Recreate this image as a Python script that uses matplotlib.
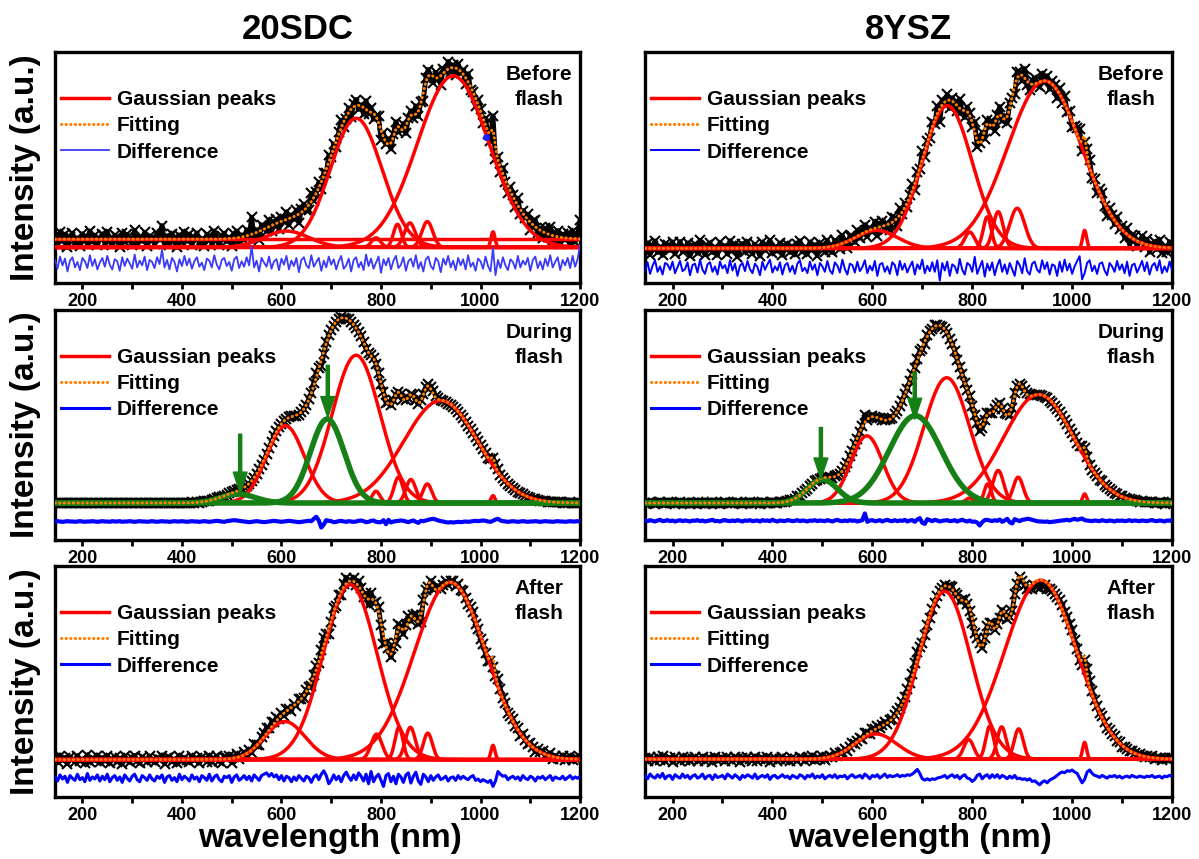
import matplotlib.pyplot as plt
import numpy as np
from matplotlib.lines import Line2D

plt.rcParams['font.family'] = ['Liberation Sans', 'DejaVu Sans']
plt.rcParams['font.weight'] = 'bold'

# sampling of the measured spectra (nm)
wavelength = np.arange(145, 1201, 5)

# Gaussian components: (centre nm, sigma nm, height a.u.)
sdc_before_peaks = [(610, 45, 48), (750, 52, 380), (945, 72, 505), (790, 9, 28),
                    (833, 8, 68), (858, 11, 72), (893, 11, 76), (1025, 4, 46)]
sdc_before_offset = 24
ysz_before_peaks = [(608, 42, 53), (750, 50, 420), (945, 74, 493), (795, 10, 48),
                    (830, 8, 93), (852, 10, 108), (890, 15, 118), (1025, 4, 53)]
sdc_during_peaks = [(608, 38, 230), (750, 48, 440), (920, 74, 305), (790, 8, 35),
                    (835, 9, 77), (860, 10, 70), (893, 9, 57), (1025, 4, 22)]
sdc_during_green = [(512, 35, 27), (692, 34, 250)]
ysz_during_peaks = [(589, 32, 200), (749, 46, 373), (933, 70, 323), (795, 8, 15),
                    (831, 7, 57), (852, 11, 97), (892, 10, 77), (1025, 4, 27)]
ysz_during_green = [(500, 30, 70), (686, 52, 260)]
sdc_after_peaks = [(607, 40, 112), (738, 54, 515), (939, 72, 522), (791, 11, 75),
                   (836, 8, 95), (859, 10, 95), (894, 9, 78), (1025, 4, 42)]
ysz_after_peaks = [(607, 42, 75), (745, 52, 498), (937, 72, 531), (793, 10, 58),
                   (835, 8, 98), (859, 9, 96), (893, 9, 90), (1025, 4, 50)]

# residuals (data - fit), read every 5 nm
sdc_before_diff = [
    10, -16, 20, -6, 14, -24, 8, 18, -12, 4, -20, 16, 6, -14, 24, -8, 12, -18, 2, 16,
    -10, 22, -4, -18, 12, 6, -22, 18, -8, 14, 0, -16, 26, -12, 8, -6, 20, -20, 10, 4,
    -14, 18, -2, 40, -12, 10, -18, 16, 4, -24, 12, -8, 22, -6, 14, -16, 6, 18, -10, 2,
    -20, 14, 8, -12, 24, -4, -18, 10, 16, -8, 4, -22, 12, 20, -14, 6, -10, 18, -6, 50,
    -12, 8, -24, 16, 2, -10, 20, -16, 6, 12, -20, 14, -4, 22, -18, 8, -8, 16, -26, 10,
    18, -6, -14, 24, -10, 4, 16, -22, 8, -12, 20, -4, 12, -18, 6, 22, -16, -6, 14, -24,
    10, 18, -12, 4, -20, 26, -8, 14, -16, 2, 20, -28, 12, -6, 16, -18, 8, 22, -14, -4,
    18, -22, 6, 14, -10, 24, -16, 4, -24, 12, 20, -8, -18, 16, 6, -26, 14, -4, 22, -12,
    8, -20, 16, -6, 12, -18, 24, -10, 2, -22, 14, 6, -16, 20, -8, -24, 45, -35, 10, -14,
    18, -6, -20, 12, 4, -16, 22, -12, 8, -4, 16, -22, 10, 20, -14, 6, -18, 14, -8, 24,
    -12, 4, 18, -20, 10, -6, 16, -14, 22, -10, 12, 55]
ysz_before_diff = [
    -8, 16, -18, 6, 22, -12, 4, -20, 14, 10, -6, 18, -16, 2, 20, -10, -4, 16, -22, 8,
    12, -14, 24, -6, -18, 10, 16, -12, 4, -20, 18, -2, 8, -16, 22, -8, 12, -24, 6, 14,
    -10, 20, -4, -16, 12, 2, -22, 18, -6, 10, 24, -14, 4, -8, 16, -20, 8, 14, -12, 6,
    -18, 12, 22, -10, 0, -16, 18, -6, 10, -22, 14, 4, -12, 20, -8, -18, 16, 6, -14, 24,
    -4, -20, 12, 8, -14, 18, -10, 2, 22, -16, 6, -8, 20, -24, 10, 14, -12, 4, -18, 16,
    8, -22, 20, -6, 12, -14, 4, 18, -20, 10, -4, 24, -16, 6, -10, 16, -12, 22, -38, 14,
    -8, 18, -24, 10, 4, -16, 26, -6, -20, 14, 8, -12, 32, -18, 2, 20, -26, 12, -8, 16,
    -22, 6, 24, -12, 10, -18, 14, -4, -24, 20, 8, -16, 28, -10, -20, 12, 18, -6, -14, 22,
    -4, 16, -20, 10, 6, -24, 18, -12, 24, -8, 12, -18, 4, 20, 34, -34, -16, 14, 22, -10,
    6, -18, 12, 16, -8, -22, 14, 4, -12, 20, -6, 10, -16, 18, -24, 8, 12, -14, 2, 20,
    -10, 16, -20, 6, 14, -8, 22, -16, 4, -12, 18, -6]
sdc_during_diff = [
    0, 1, 0, -1, 0, 1, 0, 0, -1, 0, 1, 0, -1, 0, 0, 1, 0, -1, 0, 1,
    0, 0, -1, 1, 0, 0, 1, -1, 0, 0, 1, 0, -1, 0, 1, 0, 0, -1, 0, 1,
    0, -1, 0, 1, 0, 0, -1, 0, 1, 0, 0, 1, 0, -1, 0, 1, 0, 0, -1, 0,
    1, 0, -1, 0, 1, 2, 1, 0, -1, 1, 2, 3, 4, 3, 2, 1, 0, -1, -2, -1,
    0, 1, 0, -1, -2, -1, 0, 1, 2, 1, 0, -1, 0, 1, 2, 1, 0, -1, -2, -1,
    0, 1, 2, 1, 8, 14, 3, -18, -9, 4, 2, 1, -2, -1, 1, 2, 0, -1, 1, 0,
    -1, 0, 2, 3, 1, -2, -1, 2, 3, -1, -2, -2, 4, -8, 5, -3, 0, 1, 2, 3,
    2, 0, -2, 1, 3, -1, -4, 2, 1, 3, 5, 7, 8, 6, 3, 1, 0, -2, -3, -2,
    -3, -2, -1, -2, -1, 0, -1, 0, 1, 2, 1, 2, 3, 2, 0, -1, 2, 6, 8, 3,
    1, 0, -1, 0, 1, 0, -1, 0, 1, 0, -1, 0, 0, 1, 0, -1, 0, 1, 0, 0,
    -1, 0, 1, 0, 0, -1, 0, 1, 0, 0, 1, 0]
ysz_during_diff = [
    1, -1, 2, 0, -2, 1, 3, -1, 0, 2, -1, 1, -2, 0, 2, -1, 1, 0, -2, 1,
    0, 2, -1, 1, -2, 0, 1, 3, -1, 0, -2, 1, 2, 0, -1, 1, -1, 2, 0, -2,
    1, 0, 2, -1, 0, 1, -2, 2, 0, 1, -1, 3, 0, -2, 1, 0, -1, 2, 1, -1,
    0, 2, -1, 1, 0, -2, 1, 0, 2, -1, 1, 0, -1, 2, 0, -2, 1, 3, 0, -1,
    1, -1, 2, 0, 1, -2, 0, 2, 22, -3, 1, 2, -1, 0, 2, -2, 1, 3, 0, -1,
    2, -1, 1, 0, 3, -2, 1, 2, -3, 4, 8, -6, -9, 5, 2, -1, 3, 1, -2, 0,
    1, 2, -1, 0, 2, -2, 1, 3, 0, -2, 1, -3, -2, -5, -14, -4, 2, 3, 1, -1,
    2, 0, 4, -3, 1, 6, -4, -8, 5, 2, -1, 3, 4, 6, 5, 3, 1, -1, -2, -2,
    -3, -2, -4, -3, -2, -1, 0, 1, 2, 3, 1, 4, 6, 3, 5, 7, 2, 1, 0, -1,
    1, 0, -1, 2, 0, -1, 1, 0, -2, 1, 0, 1, -1, 0, 2, -1, 1, 0, -1, 1,
    0, -1, 1, 2, 0, -1, 1, 0, -2, 1, 0, 3]
sdc_after_diff = [
    4, -8, 10, -2, 6, -12, 8, 0, -6, 12, -4, 2, -10, 14, -6, 4, -2, 10, -8, 6,
    -4, 12, -10, 2, 8, -6, 4, -12, 10, 0, -8, 6, 12, -4, -10, 8, 2, -6, 10, -2,
    -8, 6, 0, 10, -12, 4, 8, -6, 2, -10, 12, -4, 6, 0, -8, 10, -2, 4, -10, 8,
    2, -6, 12, -8, 4, 10, -4, -10, 6, 2, 8, -12, 4, 10, -6, 0, 8, -4, 6, -8,
    10, 2, -6, 8, 12, 16, 6, 14, 4, 10, -4, 8, -8, 6, 2, -10, 4, -6, 8, 0,
    -8, 6, 2, -12, 4, 10, -4, 12, 22, 8, -16, -6, 10, -4, 6, -10, 8, 18, 4, -6,
    10, -4, 16, 6, -8, 12, -16, 20, -10, 4, 12, -6, -24, 8, 14, -10, 6, -16, 12, 4,
    -12, 10, 16, -14, 6, 18, -8, -18, 12, 4, -10, 8, -6, 4, 10, -4, 0, 6, -8, 2,
    4, -6, 8, -2, 6, 0, -4, 4, 8, -6, -2, -10, -4, -8, -12, -6, -24, -8, 20, 12,
    6, 8, -4, 2, 6, -2, 4, -6, 8, 0, -4, 6, 2, -8, 4, 0, 6, -4, 2, 8,
    -6, 4, 0, -2, 6, -4, 2, 8, -2, 4, 0, 6]
ysz_after_diff = [
    4, -6, 8, 0, -4, 6, -2, 10, -6, 2, 4, -8, 6, 0, -4, 8, -2, 4, -6, 2,
    6, -4, 0, 8, -6, 2, 4, -8, 6, -2, 0, 4, -6, 8, 2, -4, 6, 0, -8, 4,
    -2, 6, 2, -4, 8, -6, 0, 4, -2, 6, -8, 2, 4, -4, 0, 6, -2, 2, -6, 4,
    0, -4, 6, 2, -6, 4, 0, 8, -4, 2, -2, 6, -6, 0, 4, -2, 6, -4, 2, 0,
    4, -6, 2, 6, -2, 0, 4, -4, 8, 2, -6, 4, 0, 6, -4, 2, 8, -2, 4, 0,
    2, 6, 0, 4, 2, 6, 4, 8, 14, 22, 10, -6, -10, -6, -10, -6, -8, -4, -2, 0,
    4, -4, 2, 6, -2, 4, -6, 2, 6, -4, -6, -14, -8, 4, 8, -6, 2, 6, -4, 6,
    -2, 6, -4, 4, 0, -6, 2, -4, 4, -6, -4, -8, -6, -10, -6, -14, -12, -18, -24, -16,
    -12, -18, -10, -6, -2, 4, 10, 14, 12, 18, 16, 20, 14, 10, -4, -18, -8, 14, 20, 10,
    4, 2, -2, 4, 0, -4, 2, 0, 4, -2, 2, -4, 0, 2, -2, 4, 0, -2, 2, 0,
    -2, 2, 0, 4, -2, 0, 2, -4, 2, 0, 4, 2]

# green arrows in the "during flash" panels: (x nm, tail height, tip height)
sdc_during_arrows = [(517, 205, 30), (693, 410, 255)]
ysz_during_arrows = [(497, 225, 72), (685, 390, 250)]

# stray blue point in the first panel
sdc_before_stray = (1010, 325)

panel_labels = ['Before\nflash', 'During\nflash', 'After\nflash']
column_titles = ['20SDC', '8YSZ']

RED = '#FF0000'
ORANGE = '#FF7F00'
GREEN = '#168016'
DOTS = (0, (0.1, 1.4))


def gauss(x, c, s, h):
    return h * np.exp(-0.5 * ((x - c) / s) ** 2)


panels = [
    dict(red=sdc_before_peaks, green=[], offset=sdc_before_offset, diff=sdc_before_diff,
         arrows=[], ylim=(-105, 575), doff=-47, blue='#3A3AF8', dlw=1.3),
    dict(red=ysz_before_peaks, green=[], offset=0, diff=ysz_before_diff,
         arrows=[], ylim=(-102, 578), doff=-57, blue='#0000FF', dlw=1.4),
    dict(red=sdc_during_peaks, green=sdc_during_green, offset=0, diff=sdc_during_diff,
         arrows=sdc_during_arrows, ylim=(-110, 575), doff=-55, blue='#0000FF', dlw=3.0),
    dict(red=ysz_during_peaks, green=ysz_during_green, offset=0, diff=ysz_during_diff,
         arrows=ysz_during_arrows, ylim=(-110, 575), doff=-53, blue='#0000FF', dlw=3.0),
    dict(red=sdc_after_peaks, green=[], offset=0, diff=sdc_after_diff,
         arrows=[], ylim=(-110, 570), doff=-55, blue='#0000FF', dlw=2.2),
    dict(red=ysz_after_peaks, green=[], offset=0, diff=ysz_after_diff,
         arrows=[], ylim=(-112, 573), doff=-52, blue='#0000FF', dlw=2.2),
]

fig = plt.figure(figsize=(11.99, 8.59), dpi=100)
col_left = [0.0459, 0.538]
col_width = [0.4379, 0.4395]
row_bottom = [0.6705, 0.3714, 0.0722]
row_height = [0.2689, 0.2678, 0.2689]

x_fine = np.linspace(145, 1200, 2111)

for k, p in enumerate(panels):
    row, col = divmod(k, 2)
    ax = fig.add_axes([col_left[col], row_bottom[row], col_width[col], row_height[row]])

    comps = p['red'] + p['green']
    fit_fine = p['offset'] + sum(gauss(x_fine, *g) for g in comps)
    fit_grid = p['offset'] + sum(gauss(wavelength, *g) for g in comps)
    diff = np.array(p['diff'], dtype=float)
    data = fit_grid + diff

    # measured points: dense crosses that merge into a black band
    ax.plot(wavelength, data, color='black', lw=3.5, solid_joinstyle='round', zorder=2)
    ax.plot(wavelength, data, ls='none', marker='x', ms=7, mew=1.5, color='black', zorder=2)
    for g in p['red']:
        ax.plot(x_fine, gauss(x_fine, *g), color=RED, lw=2.5, zorder=3)
    if p['offset']:
        ax.axhline(p['offset'], color=RED, lw=2.5, zorder=3)
    for g in p['green']:
        ax.plot(x_fine, gauss(x_fine, *g), color=GREEN, lw=4, zorder=4)
    ax.plot(x_fine, fit_fine, color=ORANGE, lw=2.2, ls=DOTS,
            dash_capstyle='round', zorder=5)
    ax.plot(wavelength, p['doff'] + diff, color=p['blue'], lw=p['dlw'], zorder=3)

    for xa, y0, y1 in p['arrows']:
        ax.annotate('', xy=(xa, y1), xytext=(xa, y0),
                    arrowprops=dict(facecolor=GREEN, edgecolor=GREEN, width=2.2,
                                    headwidth=10, headlength=15), zorder=6)
    if k == 0:
        ax.plot(*sdc_before_stray, 'o', ms=4, color='#2020FF', zorder=6)

    ax.set_xlim(145, 1200)
    ax.set_ylim(*p['ylim'])
    ax.set_yticks([])
    ax.set_xticks(range(200, 1201, 200))
    ax.set_xticks(range(300, 1200, 200), minor=True)
    ax.tick_params(axis='x', which='both', direction='out', width=2, labelsize=13, pad=3)
    ax.tick_params(axis='x', which='major', length=4)
    ax.tick_params(axis='x', which='minor', length=4)
    for lab in ax.get_xticklabels():
        lab.set_fontweight('bold')
    for s in ax.spines.values():
        s.set_linewidth(2.4)

    handles = [Line2D([], [], color=RED, lw=2.5),
               Line2D([], [], color=ORANGE, lw=2.2, ls=DOTS, dash_capstyle='round'),
               Line2D([], [], color=p['blue'], lw=min(p['dlw'], 2.2))]
    ax.legend(handles, ['Gaussian peaks', 'Fitting', 'Difference'], loc='upper left',
              bbox_to_anchor=(0.012, 0.834), frameon=False,
              prop=dict(size=15, weight='bold'), handlelength=2.3, handletextpad=0.35,
              labelspacing=0.34, borderpad=0, borderaxespad=0)

    ax.text(0.922, 0.945, panel_labels[row], transform=ax.transAxes, ha='center', va='top',
            fontsize=15, fontweight='bold', linespacing=1.42)

    if col == 0:
        yc = row_bottom[row] + row_height[row] / 2
        fig.text(0.021, yc, 'Intensity (a.u.)', rotation=90, ha='center', va='center',
                 fontsize=24, fontweight='bold')

fig.text(0.248, 0.966, column_titles[0], ha='center', va='center', fontsize=25, fontweight='bold')
fig.text(0.758, 0.966, column_titles[1], ha='center', va='center', fontsize=25, fontweight='bold')
fig.text(0.275, 0.024, 'wavelength (nm)', ha='center', va='center', fontsize=24, fontweight='bold')
fig.text(0.767, 0.024, 'wavelength (nm)', ha='center', va='center', fontsize=24, fontweight='bold')

fig.savefig('out.png', dpi=100)
